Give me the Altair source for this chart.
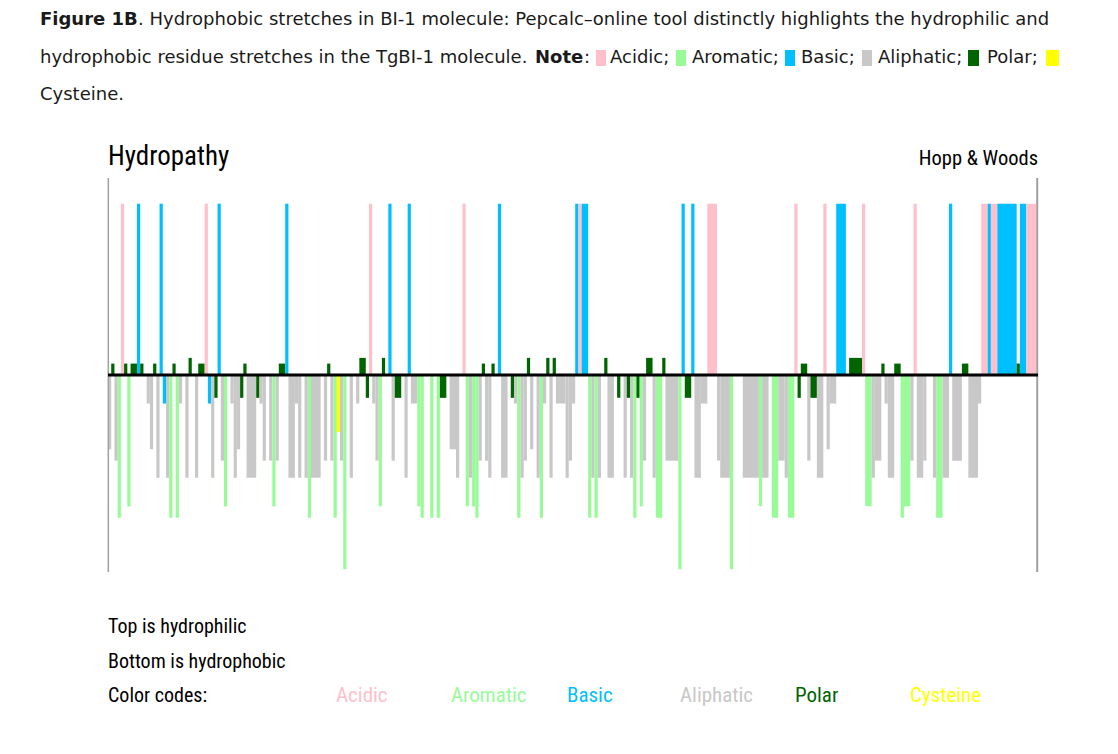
import altair as alt
import pandas as pd

# Residue classes, left to right (one letter per residue bar)
residues_1 = "MNVFENYNNKNGAMNLKHLFNFAGLSGLNNEHLTKV"
residues_2 = "YGALMTNLLLTAVGVYVNNKLLALGLFLLLGVNVFCVW"
residues_3 = "GLGASSTEAVYSGKVTTGLKAAYFGGFGFTTGMMLGE"
residues_4 = "YLYFVNVLNGKLLGTAFLVSMGLFASLSAAALVAKEKK"
residues_5 = "FLFLGSLLGTGLTLFTYVSSLFFSVVVVWKTTKLLAA"
residues_6 = "EEEVLLLWGGGLLLLLYLLGFFVVLFFETNNVTTLL"
residues_7 = "EMAAKKKGSSSSEYYLVVNALLNNFYYVELLVGGLFFL"
residues_8 = "LKVVVNNLLLAEEKEEKKKKKKNKKEEE"

# Hopp & Woods hydrophilicity values
hopp_woods = {"A": -0.5, "C": -1.0, "D": 3.0, "E": 3.0, "F": -2.5, "G": 0.0, "H": -0.5,
              "I": -1.8, "K": 3.0, "L": -1.8, "M": -1.3, "N": 0.2, "P": 0.0, "Q": 0.2,
              "R": 3.0, "S": 0.3, "T": -0.4, "V": -1.5, "W": -3.4, "Y": -2.3}
classes = {"D": "Acidic", "E": "Acidic", "F": "Aromatic", "W": "Aromatic", "Y": "Aromatic",
           "K": "Basic", "R": "Basic", "H": "Basic", "A": "Aliphatic", "G": "Aliphatic",
           "I": "Aliphatic", "L": "Aliphatic", "M": "Aliphatic", "P": "Aliphatic", "V": "Aliphatic",
           "N": "Polar", "Q": "Polar", "S": "Polar", "T": "Polar", "C": "Cysteine"}
class_names = ["Acidic", "Aromatic", "Basic", "Aliphatic", "Polar", "Cysteine"]
class_colors = ["#FFC0CB", "#98FB98", "#00BFFF", "#C8C8C8", "#006400", "#FFFF00"]

sequence = "".join([residues_1, residues_2, residues_3, residues_4,
                    residues_5, residues_6, residues_7, residues_8])
n_res = len(sequence)

# merge runs of identical residues into one block
rows = []
i = 0
while i < n_res:
    j = i
    while j + 1 < n_res and sequence[j + 1] == sequence[i]:
        j += 1
    aa = sequence[i]
    if hopp_woods[aa] != 0:
        rows.append({"start": i, "end": j + 1, "base": 0.0, "value": hopp_woods[aa],
                     "category": classes[aa]})
    i = j + 1
df = pd.DataFrame(rows)

OX, OY = 108, 178          # page position of plot origin
PW, PH = 928, 394

bars = alt.Chart(df).mark_rect().encode(
    x=alt.X("start:Q", scale=alt.Scale(domain=[0, n_res], nice=False, zero=False), axis=None),
    x2="end:Q",
    y=alt.Y("base:Q", scale=alt.Scale(domain=[-3.45, 3.45], nice=False), axis=None),
    y2="value:Q",
    color=alt.Color("category:N", scale=alt.Scale(domain=class_names, range=class_colors),
                    legend=None),
)

dummy = alt.Data(values=[{}])

zero_line = alt.Chart(dummy).mark_rule(color="black", strokeWidth=3).encode(
    x=alt.value(0), x2=alt.value(PW + 2), y=alt.datum(0))
left_line = alt.Chart(dummy).mark_rule(color="#A0A0A0", strokeWidth=1.5).encode(
    x=alt.value(0.3), y=alt.value(0), y2=alt.value(PH))
right_line = alt.Chart(dummy).mark_rule(color="#A0A0A0", strokeWidth=2).encode(
    x=alt.value(PW + 1.2), y=alt.value(0), y2=alt.value(PH))

CAP = "'DejaVu Sans', sans-serif"
NARROW = "'Roboto Condensed', 'DejaVu Sans Condensed', sans-serif"


def txt(s, x, y, size, color="#1a1a1a", font=CAP, weight="normal", align="left"):
    return alt.Chart(dummy).mark_text(
        text=s, align=align, baseline="alphabetic", font=font, fontSize=size,
        fontWeight=weight, color=color).encode(x=alt.value(x - OX), y=alt.value(y - OY))


def square(x0, x1, color):
    return alt.Chart(dummy).mark_rect(color=color).encode(
        x=alt.value(x0 - OX), x2=alt.value(x1 - OX), y=alt.value(50 - OY), y2=alt.value(66 - OY))


cap_size = 18
texts = [
    txt("Figure 1B", 40, 25, cap_size, weight="bold"),
    txt(". Hydrophobic stretches in BI-1 molecule: Pepcalc\u2013online tool distinctly highlights the hydrophilic and",
        138, 25, cap_size),
    txt("hydrophobic residue stretches in the TgBI-1 molecule.", 40, 63, cap_size),
    txt("Note", 535, 63, cap_size, weight="bold"),
    txt(":", 584, 63, cap_size),
    square(596, 606, class_colors[0]),
    txt("Acidic;", 610, 63, cap_size),
    square(676, 686, class_colors[1]),
    txt("Aromatic;", 692, 63, cap_size),
    square(785, 795, class_colors[2]),
    txt("Basic;", 801, 63, cap_size),
    square(862, 872, class_colors[3]),
    txt("Aliphatic;", 878, 63, cap_size),
    square(968, 979, class_colors[4]),
    txt("Polar;", 987, 63, cap_size),
    square(1046, 1059, class_colors[5]),
    txt("Cysteine.", 40, 100, cap_size),
    txt("Hydropathy", 108, 165, 27, color="#000000", font=NARROW),
    txt("Hopp & Woods", 1038, 165, 20.5, color="#000000", font=NARROW, align="right"),
    txt("Top is hydrophilic", 108, 633, 20, color="#000000", font=NARROW),
    txt("Bottom is hydrophobic", 108, 668, 20, color="#000000", font=NARROW),
    txt("Color codes:", 108, 702, 20, color="#000000", font=NARROW),
]
legend_x = [336, 451, 567, 680, 795, 910]
for name, col, lx in zip(class_names, class_colors, legend_x):
    texts.append(txt(name, lx, 702, 21, color=col, font=NARROW))

chart = alt.layer(bars, left_line, right_line, zero_line, *texts).properties(
    width=PW, height=PH,
    autosize=alt.AutoSizeParams(type="none"),
    padding={"left": OX - 8, "top": OY - 8, "right": 1098 - (OX - 8) - PW, "bottom": 140},
).configure_view(stroke=None)

chart.save("out.html", embed_options={"renderer": "svg", "actions": False})
